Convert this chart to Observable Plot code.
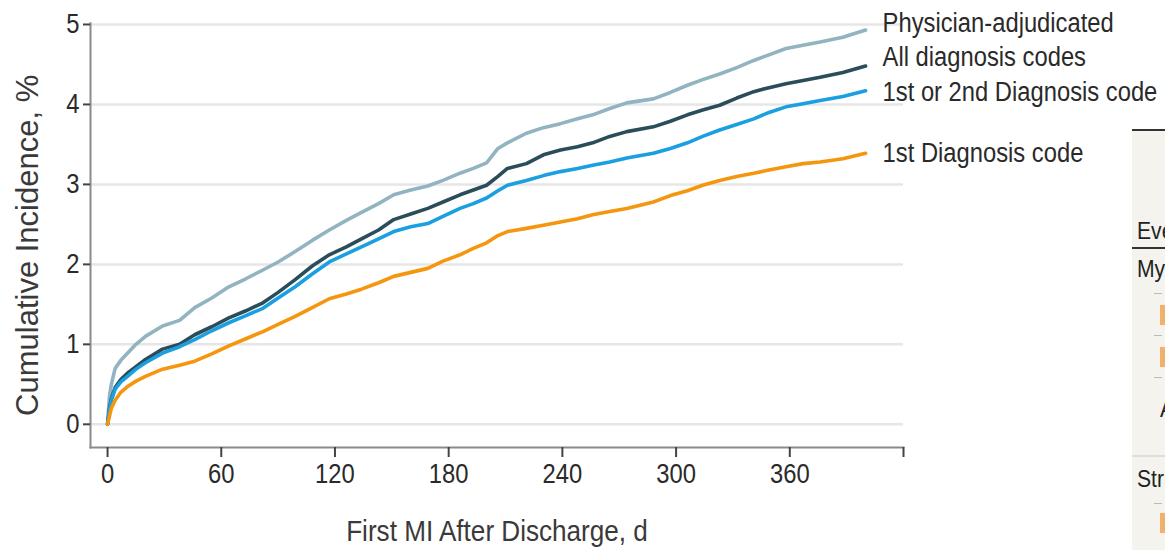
<!DOCTYPE html>
<html><head><meta charset="utf-8">
<script src="https://cdn.jsdelivr.net/npm/d3@7"></script>
<script src="https://cdn.jsdelivr.net/npm/@observablehq/plot@0.6"></script>
<style>
body{margin:0;background:#fff;}
#wrap{position:relative;width:1165px;height:550px;overflow:hidden;font-family:"Liberation Sans",Arial,sans-serif;color:#222;}
#chart{position:absolute;left:0;top:0;}
#panel{position:absolute;left:1132px;top:129px;width:40px;height:430px;background:#f4f3ee;border-top:2px solid #333;}
.t{position:absolute;font-size:24px;color:#222;white-space:nowrap;transform:scaleX(0.88);transform-origin:left center;}
.ln{position:absolute;left:0;width:40px;}
.ob{position:absolute;width:6px;height:20px;background:#f0b26a;}
.gd{position:absolute;width:8px;height:1px;background:#bbb;}
</style></head><body>
<div id="wrap">
<div id="chart"></div>
<div id="panel">
  <div class="t" style="left:5px;top:86px;">Eve</div>
  <div class="ln" style="top:116px;height:2px;background:#333;"></div>
  <div class="t" style="left:5px;top:124px;">My</div>
  <div class="gd" style="left:22px;top:162px;"></div>
  <div class="ob" style="left:28px;top:174px;"></div>
  <div class="gd" style="left:22px;top:204px;"></div>
  <div class="ob" style="left:28px;top:216px;"></div>
  <div class="gd" style="left:22px;top:246px;"></div>
  <div class="t" style="left:28px;top:264px;">A</div>
  <div class="ln" style="top:324px;height:2px;background:#ddd;"></div>
  <div class="t" style="left:5px;top:334px;">Str</div>
  <div class="gd" style="left:22px;top:372px;"></div>
  <div class="ob" style="left:28px;top:382px;"></div>
</div>
</div>
<script>
const days = [0, 1, 2, 4, 7, 11, 15, 20, 29, 38, 46, 55, 64, 73, 82, 90, 99, 108, 117, 126, 134, 143, 151, 160, 169, 177, 186, 193, 200, 206, 211, 221, 230, 239, 248, 256, 265, 274, 288, 297, 306, 314, 323, 332, 341, 349, 358, 367, 376, 388, 400];
const physician = [0, 0.35, 0.5, 0.7, 0.8, 0.9, 1.0, 1.1, 1.23, 1.3, 1.46, 1.58, 1.72, 1.82, 1.93, 2.03, 2.16, 2.3, 2.43, 2.55, 2.65, 2.76, 2.87, 2.93, 2.98, 3.05, 3.14, 3.2, 3.27, 3.45, 3.52, 3.64, 3.71, 3.76, 3.82, 3.87, 3.95, 4.02, 4.07, 4.15, 4.24, 4.31, 4.38, 4.46, 4.55, 4.62, 4.70, 4.74, 4.78, 4.84, 4.93];
const allCodes = [0, 0.2, 0.32, 0.46, 0.56, 0.65, 0.72, 0.81, 0.94, 1.0, 1.12, 1.22, 1.33, 1.42, 1.52, 1.65, 1.81, 1.98, 2.12, 2.22, 2.32, 2.43, 2.56, 2.63, 2.70, 2.78, 2.87, 2.93, 2.99, 3.1, 3.2, 3.26, 3.37, 3.43, 3.47, 3.52, 3.6, 3.66, 3.72, 3.79, 3.87, 3.93, 3.99, 4.08, 4.16, 4.21, 4.26, 4.3, 4.34, 4.4, 4.48];
const firstSecond = [0, 0.18, 0.3, 0.44, 0.53, 0.61, 0.69, 0.77, 0.89, 0.97, 1.06, 1.17, 1.27, 1.36, 1.45, 1.58, 1.72, 1.88, 2.03, 2.13, 2.22, 2.32, 2.41, 2.47, 2.51, 2.6, 2.7, 2.76, 2.83, 2.92, 2.99, 3.05, 3.11, 3.16, 3.2, 3.24, 3.28, 3.33, 3.39, 3.45, 3.52, 3.6, 3.68, 3.75, 3.82, 3.9, 3.97, 4.01, 4.05, 4.1, 4.17];
const firstOnly = [0, 0.1, 0.2, 0.3, 0.4, 0.48, 0.54, 0.6, 0.69, 0.74, 0.79, 0.88, 0.98, 1.07, 1.16, 1.25, 1.35, 1.46, 1.57, 1.63, 1.69, 1.77, 1.85, 1.9, 1.95, 2.04, 2.12, 2.2, 2.27, 2.36, 2.41, 2.45, 2.49, 2.53, 2.57, 2.62, 2.66, 2.7, 2.78, 2.86, 2.92, 2.99, 3.05, 3.1, 3.14, 3.18, 3.22, 3.26, 3.28, 3.32, 3.39];

const seriesNames = ["Physician-adjudicated", "All diagnosis codes", "1st or 2nd Diagnosis code", "1st Diagnosis code"];
const seriesValues = [physician, allCodes, firstSecond, firstOnly];
const seriesColors = ["#92b3c0", "#2b4d5a", "#1a9fe0", "#f5960f"];
const labelY = [5.02, 4.59, 4.15, 3.39];
const xTicks = [0, 60, 120, 180, 240, 300, 360];
const yTicks = [0, 1, 2, 3, 4, 5];
const xLabel = "First MI After Discharge, d";
const yLabel = "Cumulative Incidence, %";

const rows = [];
seriesNames.forEach((s, i) => days.forEach((d, j) => rows.push({series: s, day: d, value: seriesValues[i][j]})));
const labels = seriesNames.map((s, i) => ({series: s, day: days[days.length - 1], y: labelY[i]}));

const font = '"Liberation Sans", Arial, sans-serif';
const chart = Plot.plot({
  width: 1165, height: 550,
  marginLeft: 90, marginRight: 262, marginTop: 22.7, marginBottom: 103,
  style: {fontFamily: font, fontSize: "28px", color: "#2a2a2a", background: "transparent"},
  x: {domain: [-9, 420]},
  y: {domain: [-0.29, 5.016]},
  color: {domain: seriesNames, range: seriesColors},
  marks: [
    Plot.gridY(yTicks, {stroke: "#e6e6e6", strokeOpacity: 1, strokeWidth: 2.5}),
    Plot.frame({anchor: "left", stroke: "#8a8a8a", strokeWidth: 2}),
    Plot.frame({anchor: "bottom", stroke: "#8a8a8a", strokeWidth: 2}),
    Plot.axisY({ticks: yTicks, tickFormat: d => d, tickSize: 7, tickPadding: 4, label: null, stroke: "#444", strokeWidth: 2, fontSize: 28}),
    Plot.axisX({ticks: [...xTicks, 420], tickFormat: d => d === 420 ? "" : d, tickSize: 10, tickPadding: 6, label: null, stroke: "#444", strokeWidth: 2, fontSize: 28}),
    Plot.line(rows, {x: "day", y: "value", z: "series", stroke: "series", strokeWidth: 3.6, strokeLinejoin: "round"}),
    Plot.text(labels, {x: "day", y: "y", text: "series", dx: 17, textAnchor: "start", fontSize: 27, fill: "#2a2a2a"}),
    Plot.text([yLabel], {frameAnchor: "left", dx: -62, dy: 10, rotate: -90, textAnchor: "middle", lineAnchor: "middle", fontSize: 31, fill: "#3a3a3a"}),
    Plot.text([xLabel], {frameAnchor: "bottom", dy: 84, textAnchor: "middle", lineAnchor: "middle", fontSize: 29, fill: "#3a3a3a"})
  ]
});
document.getElementById("chart").appendChild(chart);

// condense the narrow-looking texts horizontally (original uses a condensed face)
d3.select(chart).selectAll("text").each(function() {
  const txt = this.textContent;
  if (txt === yLabel || !txt) return;
  let k = 0.85;
  if (seriesNames.includes(txt)) k = 0.88;
  else if (txt === xLabel) k = 0.9;
  const L = this.getComputedTextLength();
  if (L > 0) {
    this.setAttribute("textLength", (L * k).toFixed(2));
    this.setAttribute("lengthAdjust", "spacingAndGlyphs");
  }
});
</script>
</body></html>
